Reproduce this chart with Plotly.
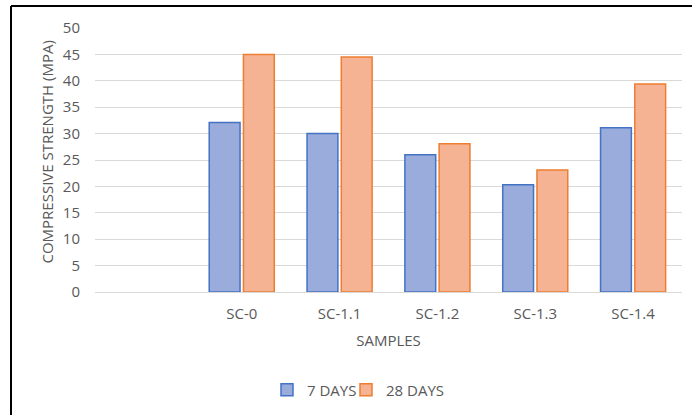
import plotly.graph_objects as go

# Sample groups (the leading blank slot keeps an empty category on the left)
categories = ["", "SC-0", "SC-1.1", "SC-1.2", "SC-1.3", "SC-1.4"]
strength_7_days = [None, 32.1, 30.0, 26.0, 20.3, 31.1]
strength_28_days = [None, 45.0, 44.5, 28.1, 23.1, 39.4]
y_ticks = [0, 5, 10, 15, 20, 25, 30, 35, 40, 45, 50]

TEXT = "#595959"
FONT = "Open Sans"
SIZE = 15

fig = go.Figure()
fig.add_trace(go.Bar(
    name="7 DAYS", x=categories, y=strength_7_days, legend="legend",
    marker=dict(color="#9AACDB", line=dict(color="#4472C4", width=1.5)),
))
fig.add_trace(go.Bar(
    name="28 DAYS", x=categories, y=strength_28_days, legend="legend2",
    marker=dict(color="#F5B394", line=dict(color="#ED7D31", width=1.5)),
))

legend_style = dict(orientation="h", xanchor="left", y=-0.366, yanchor="middle",
                    font=dict(family=FONT, size=SIZE, color=TEXT),
                    bgcolor="rgba(0,0,0,0)")

fig.update_layout(
    width=692, height=415,
    margin=dict(l=95, r=10, t=28, b=122),
    paper_bgcolor="white", plot_bgcolor="white",
    font=dict(family=FONT, size=SIZE, color=TEXT),
    barmode="group", bargap=0.30, bargroupgap=0.10,
    showlegend=True,
    legend=dict(x=(267 - 95) / 587, **legend_style),
    legend2=dict(x=(346 - 95) / 587, **legend_style),
    xaxis=dict(
        type="category", categoryorder="array", categoryarray=categories,
        range=[-0.5, 5.5], showgrid=False, showline=True, linecolor="#D9D9D9",
        linewidth=1, ticks="", ticklabelstandoff=8,
        tickfont=dict(size=SIZE, color=TEXT),
        title=dict(text="SAMPLES", font=dict(size=SIZE, color=TEXT), standoff=13),
    ),
    yaxis=dict(
        range=[0, 50], tickvals=y_ticks, showgrid=True, gridcolor="#D9D9D9",
        gridwidth=1, zeroline=False, ticks="", ticklabelstandoff=14,
        tickfont=dict(size=SIZE, color=TEXT),
    ),
    annotations=[
        dict(text="COMPRESSIVE STRENGTH (MPA)", textangle=-90, showarrow=False,
             xref="paper", yref="paper", x=(47 - 95) / 587, y=(293 - 153) / 265,
             xanchor="center", yanchor="middle",
             font=dict(family=FONT, size=SIZE, color=TEXT)),
    ],
    shapes=[
        dict(type="line", xref="paper", yref="paper", x0=-0.1431, x1=1.02,
             y0=1.083, y1=1.083, line=dict(color="black", width=2)),
        dict(type="line", xref="paper", yref="paper", x0=-0.1431, x1=-0.1431,
             y0=1.083, y1=-0.5, line=dict(color="black", width=2)),
    ],
)

fig.write_html("out.html")
